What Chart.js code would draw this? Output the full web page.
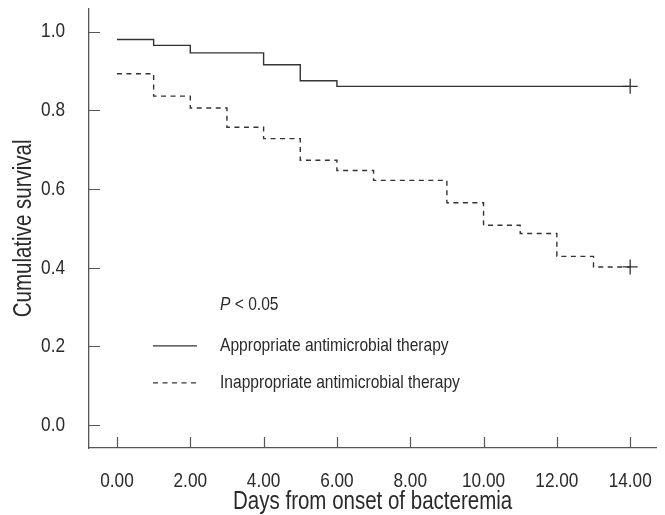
<!DOCTYPE html>
<html><head><meta charset="utf-8">
<script src="https://cdn.jsdelivr.net/npm/chart.js@4.4.0/dist/chart.umd.min.js"></script>
<style>html,body{margin:0;padding:0;background:#fff;}#wrap{width:665px;height:515px;}</style>
</head><body><div id="wrap"><canvas id="c" width="665" height="515"></canvas></div>
<script>
const xTicks = [0, 2, 4, 6, 8, 10, 12, 14];
const yTicks = [0, 0.2, 0.4, 0.6, 0.8, 1.0];
const appropriateDays = [0, 1, 2, 4, 5, 6, 14];
const appropriateSurvival = [0.980, 0.965, 0.946, 0.916, 0.875, 0.861, 0.861];
const inappropriateDays = [0, 1, 2, 3, 4, 5, 6, 7, 9, 10, 11, 12, 13, 14];
const inappropriateSurvival = [0.893, 0.836, 0.806, 0.757, 0.728, 0.673, 0.647, 0.622, 0.565, 0.508, 0.487, 0.429, 0.402, 0.402];
const seriesNames = ['Appropriate antimicrobial therapy', 'Inappropriate antimicrobial therapy'];
const pLabel = 'P';
const pRest = ' < 0.05';
const xTitle = 'Days from onset of bacteremia';
const yTitle = 'Cumulative survival';

const FAMILY = '"Liberation Sans", Arial, sans-serif';
const INK = '#2a2a2a';
const LINE = '#333333';
const SQUEEZE = 0.82; // narrow (condensed) rendering of the sans face

const canvas = document.getElementById('c');
const c2d = canvas.getContext('2d');
const nativeFill = c2d.fillText.bind(c2d);
c2d.fillText = function (text, x, y, maxWidth) {
  this.save();
  this.translate(x, y);
  this.scale(SQUEEZE, 1);
  if (maxWidth === undefined) nativeFill(text, 0, 0);
  else nativeFill(text, 0, 0, maxWidth / SQUEEZE);
  this.restore();
};

const toXY = (xs, ys) => xs.map((x, i) => ({x: x, y: ys[i]}));
const lastOnly = (n, r) => (ctx) => ctx.dataIndex === n - 1 ? r : 0;

const inwardTicks = {
  id: 'inwardTicks',
  afterDraw(chart) {
    const {ctx, chartArea: a, scales: {x, y}} = chart;
    ctx.save();
    ctx.strokeStyle = '#555';
    ctx.lineWidth = 1.2;
    ctx.beginPath();
    xTicks.forEach(v => { const px = Math.round(x.getPixelForValue(v)) + 0.5; ctx.moveTo(px, a.bottom); ctx.lineTo(px, a.bottom - 11); });
    yTicks.forEach(v => { const py = Math.round(y.getPixelForValue(v)) + 0.5; ctx.moveTo(a.left, py); ctx.lineTo(a.left + 11, py); });
    ctx.stroke();
    ctx.restore();
  }
};

const legendBox = {
  id: 'legendBox',
  afterDraw(chart) {
    const {ctx, chartArea: a} = chart;
    const lx0 = a.left + 64, lx1 = a.left + 108, tx = a.left + 131;
    const yP = a.top + 296, y1 = a.top + 337, y2 = a.top + 374;
    ctx.save();
    ctx.fillStyle = INK;
    ctx.textBaseline = 'middle';
    ctx.textAlign = 'left';
    ctx.font = 'italic 19px ' + FAMILY;
    ctx.fillText(pLabel, tx, yP);
    const pw = ctx.measureText(pLabel).width * SQUEEZE;
    ctx.font = '19px ' + FAMILY;
    ctx.fillText(pRest, tx + pw, yP);
    ctx.fillText(seriesNames[0], tx, y1);
    ctx.fillText(seriesNames[1], tx, y2);
    ctx.strokeStyle = LINE;
    ctx.lineWidth = 1.3;
    ctx.beginPath(); ctx.moveTo(lx0, y1); ctx.lineTo(lx1, y1); ctx.stroke();
    ctx.setLineDash([5, 4.5]);
    ctx.beginPath(); ctx.moveTo(lx0, y2); ctx.lineTo(lx1, y2); ctx.stroke();
    ctx.restore();
  }
};

new Chart(canvas, {
  type: 'line',
  data: {
    datasets: [
      {
        label: seriesNames[0],
        data: toXY(appropriateDays, appropriateSurvival),
        stepped: 'before',
        borderColor: LINE,
        borderWidth: 1.4,
        fill: false,
        pointStyle: 'cross',
        pointRadius: lastOnly(appropriateDays.length, 7.5),
        pointHoverRadius: 0,
        pointBorderColor: LINE,
        pointBorderWidth: 1.3
      },
      {
        label: seriesNames[1],
        data: toXY(inappropriateDays, inappropriateSurvival),
        stepped: 'before',
        borderColor: LINE,
        borderWidth: 1.4,
        borderDash: [5, 4.5],
        fill: false,
        pointStyle: 'cross',
        pointRadius: lastOnly(inappropriateDays.length, 7.5),
        pointHoverRadius: 0,
        pointBorderColor: LINE,
        pointBorderWidth: 1.3
      }
    ]
  },
  options: {
    responsive: false,
    devicePixelRatio: 1,
    animation: false,
    events: [],
    layout: {padding: {top: 8, right: 8, left: 0, bottom: 0}},
    plugins: {legend: {display: false}, tooltip: {enabled: false}},
    scales: {
      x: {
        type: 'linear',
        min: -0.763,
        max: 14.71,
        afterBuildTicks: (s) => { s.ticks = xTicks.map(v => ({value: v})); },
        afterFit: (s) => { s.height = 67; s.paddingLeft = 0; s.paddingRight = 0; },
        grid: {display: false},
        border: {display: true, color: '#555', width: 1.3},
        ticks: {
          color: INK, padding: 13, autoSkip: false, maxRotation: 0,
          font: {family: FAMILY, size: 21},
          callback: (v) => Number(v).toFixed(2)
        },
        title: {display: true, text: xTitle, color: INK, font: {family: FAMILY, size: 25, lineHeight: 1}, padding: {top: 0, bottom: 0}}
      },
      y: {
        type: 'linear',
        min: -0.058,
        max: 1.058,
        afterBuildTicks: (s) => { s.ticks = yTicks.map(v => ({value: v})); },
        afterFit: (s) => { s.width = 89; s.paddingTop = 0; s.paddingBottom = 0; },
        grid: {display: false},
        border: {display: true, color: '#555', width: 1.3},
        ticks: {
          color: INK, padding: 16,
          font: {family: FAMILY, size: 21},
          callback: (v) => Number(v).toFixed(1)
        },
        title: {display: true, text: yTitle, color: INK, font: {family: FAMILY, size: 25, lineHeight: 1}, padding: {top: 11.5, bottom: 0}}
      }
    }
  },
  plugins: [inwardTicks, legendBox]
});
</script></body></html>
